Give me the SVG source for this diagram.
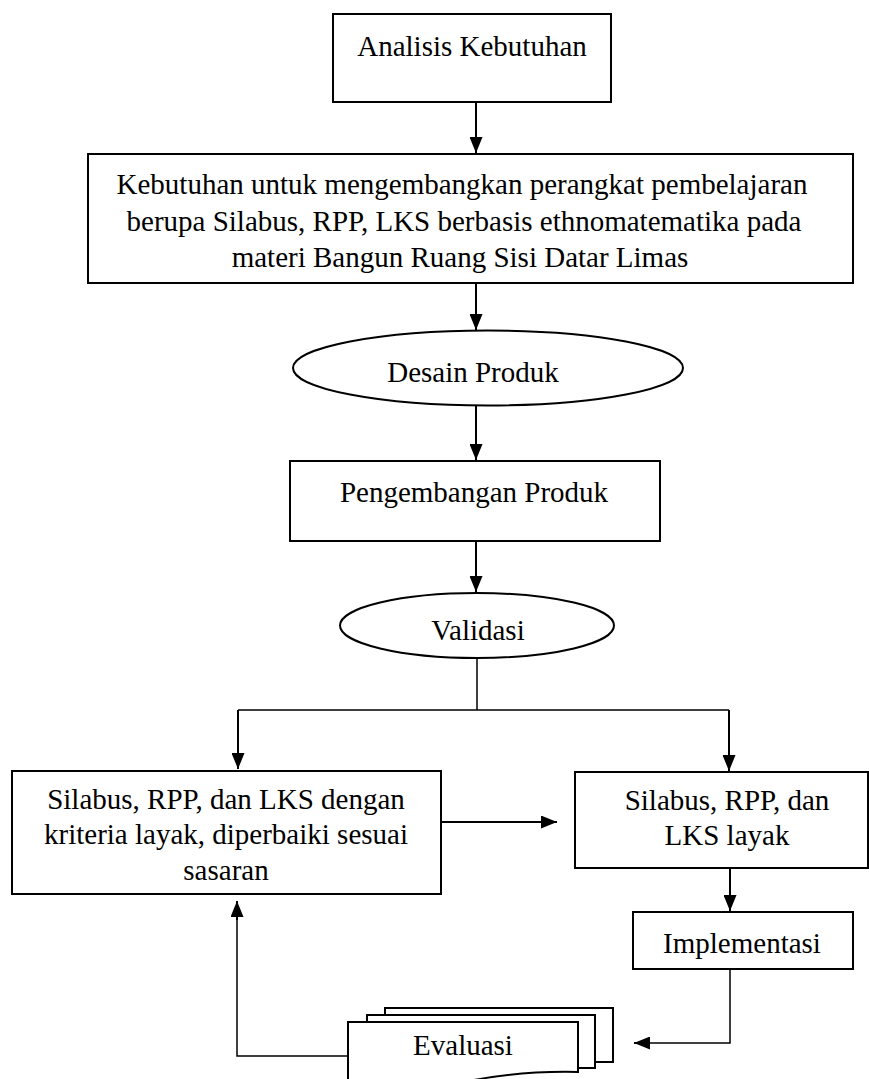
<svg xmlns="http://www.w3.org/2000/svg" width="869" height="1079" viewBox="0 0 869 1079">
<style>
.box{fill:#fff;stroke:#000;stroke-width:2}
.t{font-family:"Liberation Serif","Times New Roman",serif;font-size:29px;fill:#000;text-anchor:middle}
.c{fill:none;stroke:#000;stroke-width:2}
.thin{fill:none;stroke:#000;stroke-width:1.5}
</style>
<defs>
<marker id="ah" markerUnits="userSpaceOnUse" markerWidth="17" markerHeight="13" refX="16" refY="6.5" orient="auto">
<path d="M0,0 L16,6.5 L0,13 z" fill="#000"/>
</marker>
</defs>
<rect width="869" height="1079" fill="#fff"/>
<g id="connectors">
<path class="c" d="M476,102 V153" marker-end="url(#ah)"/>
<path class="c" d="M476,283 V330" marker-end="url(#ah)"/>
<path class="c" d="M476,406 V460" marker-end="url(#ah)"/>
<path class="c" d="M476,541 V592" marker-end="url(#ah)"/>
<path class="thin" d="M477,658 V710 M238,710 H729"/>
<path class="c" d="M238,710 V769" marker-end="url(#ah)"/>
<path class="c" d="M729,710 V771" marker-end="url(#ah)"/>
<path class="c" d="M441,822 H557" marker-end="url(#ah)"/>
<path class="c" d="M730,868 V911" marker-end="url(#ah)"/>
<path class="thin" d="M730,969 V1043 H640"/>
<path class="c" d="M648,1043 H634" marker-end="url(#ah)"/>
<path class="thin" d="M348,1056 H237 V915"/>
<path class="c" d="M237,920 V901" marker-end="url(#ah)"/>
</g>
<g id="analisis">
<rect class="box" x="333" y="14" width="278" height="88"/>
<text class="t" x="472" y="56">Analisis Kebutuhan</text>
</g>
<g id="kebutuhan">
<rect class="box" x="88" y="154" width="765" height="129"/>
<text class="t" x="462" y="194">Kebutuhan untuk mengembangkan perangkat pembelajaran</text>
<text class="t" x="464" y="231">berupa Silabus, RPP, LKS berbasis ethnomatematika pada</text>
<text class="t" x="460" y="267">materi Bangun Ruang Sisi Datar Limas</text>
</g>
<g id="desain">
<ellipse class="box" cx="488" cy="368" rx="195" ry="37.5"/>
<text class="t" x="473" y="382">Desain Produk</text>
</g>
<g id="pengembangan">
<rect class="box" x="290" y="461" width="370" height="80"/>
<text class="t" x="474" y="502">Pengembangan Produk</text>
</g>
<g id="validasi">
<ellipse class="box" cx="477" cy="625.5" rx="137" ry="32.5"/>
<text class="t" x="478" y="640">Validasi</text>
</g>
<g id="diperbaiki">
<rect class="box" x="12" y="771" width="429" height="123"/>
<text class="t" x="226" y="809">Silabus, RPP, dan LKS dengan</text>
<text class="t" x="226" y="844">kriteria layak, diperbaiki sesuai</text>
<text class="t" x="226" y="880">sasaran</text>
</g>
<g id="layak">
<rect class="box" x="575" y="772" width="293" height="96"/>
<text class="t" x="727" y="810">Silabus, RPP, dan</text>
<text class="t" x="727" y="845">LKS layak</text>
</g>
<g id="implementasi">
<rect class="box" x="633" y="912" width="220" height="57"/>
<text class="t" x="742" y="953">Implementasi</text>
</g>
<g id="evaluasi">
<rect class="box" x="385" y="1008" width="228" height="54"/>
<rect class="box" x="367" y="1015" width="228" height="53"/>
<path class="box" d="M348,1022 H578 V1072 C530,1071 490,1076 460,1083 C430,1090 380,1094 348,1088 Z"/>
<text class="t" x="463" y="1055">Evaluasi</text>
</g>
</svg>
